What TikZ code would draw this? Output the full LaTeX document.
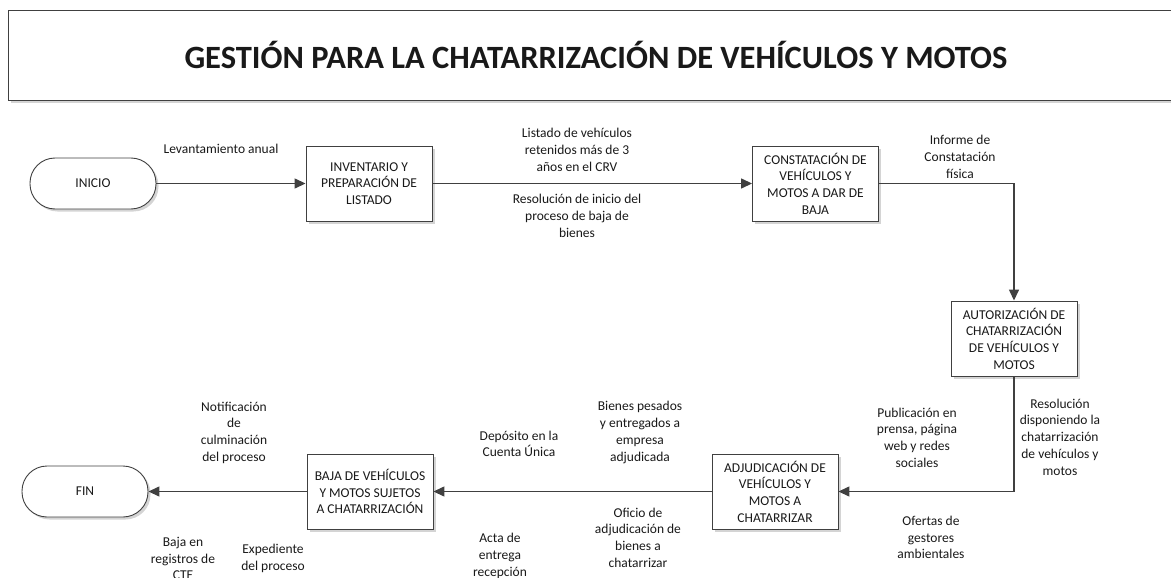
\documentclass[tikz,border=0pt]{standalone}
\usepackage{fontspec}
\setmainfont{Carlito}
\usetikzlibrary{arrows.meta,shadows}
\definecolor{linegray}{HTML}{404040}
\definecolor{shadowgray}{HTML}{D4D4D4}
\begin{document}
\begin{tikzpicture}[x=1pt,y=-1pt,
  every node/.style={font=\fontsize{13.5}{16.7}\selectfont, text=black!90, align=center, inner sep=0pt},
  box/.style={draw=linegray, line width=0.9pt, fill=white, minimum width=126pt, minimum height=75pt,
    drop shadow={shadow xshift=2.5pt, shadow yshift=-2.5pt, fill=shadowgray, opacity=1}},
  term/.style={box, minimum height=51pt, rounded corners=25pt},
  flow/.style={draw=linegray, line width=1.4pt, -{Triangle[length=11pt,width=10pt]}},
  titlefont/.style={font=\fontsize{32.5}{38}\bfseries\selectfont}]
\useasboundingbox (0,0) rectangle (1171,578);
% title frame
\fill[shadowgray] (11,100) rectangle (1171,103.5);
\draw[linegray, line width=0.9pt] (1171,10) -- (8,10) -- (8,100) -- (1171,100);
\node[titlefont] (title) at (596,55) {GESTIÓN PARA LA CHATARRIZACIÓN DE VEHÍCULOS Y MOTOS};
% process nodes
\node[term] (inicio) at (93,183.5) {INICIO};
\node[box] (inv) at (369,183.5) {INVENTARIO Y\\PREPARACIÓN DE\\LISTADO};
\node[box] (cons) at (815.5,183.5) {CONSTATACIÓN DE\\VEHÍCULOS Y\\MOTOS A DAR DE\\BAJA};
\node[box] (aut) at (1014,338.5) {AUTORIZACIÓN DE\\CHATARRIZACIÓN\\DE VEHÍCULOS Y\\MOTOS};
\node[box] (adj) at (775,491.5) {ADJUDICACIÓN DE\\VEHÍCULOS Y\\MOTOS A\\CHATARRIZAR};
\node[box] (baja) at (370,491.5) {BAJA DE VEHÍCULOS\\Y MOTOS SUJETOS\\A CHATARRIZACIÓN};
\node[term] (fin) at (85,491.5) {FIN};
% connectors
\draw[flow] (inicio) -- (inv);
\draw[flow] (inv) -- (cons);
\draw[flow] (cons.east) -| (aut.north);
\draw[flow] (aut.south) |- (adj.east);
\draw[flow] (adj) -- (baja);
\draw[flow] (baja) -- (fin);
% labels
\node (l1) at (221,149) {Levantamiento anual};
\node (l2) at (577,150) {Listado de vehículos\\retenidos más de 3\\años en el CRV};
\node (l3) at (577,216) {Resolución de inicio del\\proceso de baja de\\bienes};
\node (l4) at (960,157) {Informe de\\Constatación\\física};
\node (l5) at (1060,437) {Resolución\\disponiendo la\\chatarrización\\de vehículos y\\motos};
\node (l6) at (917,437.5) {Publicación en\\prensa, página\\web y redes\\sociales};
\node (l7) at (931,537.5) {Ofertas de\\gestores\\ambientales};
\node (l8) at (640,432.5) {Bienes pesados\\y entregados a\\empresa\\adjudicada};
\node (l9) at (638,537.5) {Oficio de\\adjudicación de\\bienes a\\chatarrizar};
\node (l10) at (519,444) {Depósito en la\\Cuenta Única};
\node (l11) at (500,556) {Acta de\\entrega\\recepción};
\node (l12) at (234,432.5) {Notificación\\de\\culminación\\del proceso};
\node (l13) at (183,558.5) {Baja en\\registros de\\CTE};
\node (l14) at (273,558.5) {Expediente\\del proceso};
\end{tikzpicture}
\end{document}
